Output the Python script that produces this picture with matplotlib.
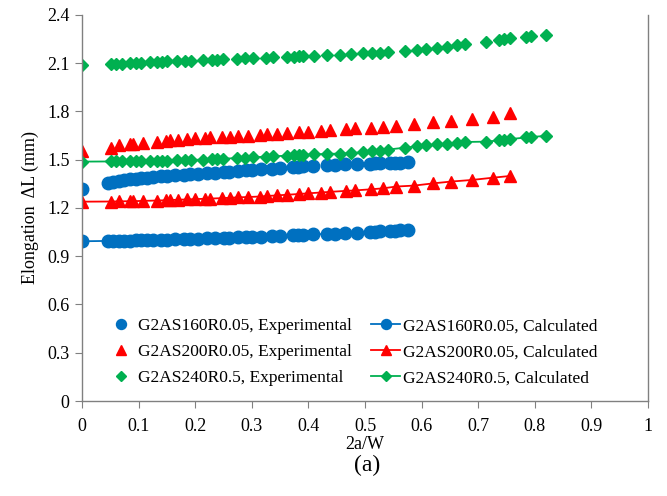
import matplotlib
matplotlib.use("Agg")
import matplotlib.pyplot as plt
from matplotlib.ticker import FuncFormatter

plt.rcParams['font.family'] = ['Liberation Serif', 'DejaVu Serif']

# G2AS160R0.05
x160 = [0, 0.045, 0.055, 0.065, 0.075, 0.085, 0.095, 0.105, 0.115, 0.125, 0.14, 0.15, 0.165,
        0.18, 0.19, 0.205, 0.22, 0.235, 0.25, 0.26, 0.275, 0.29, 0.30, 0.317, 0.335, 0.35,
        0.373, 0.382, 0.391, 0.408, 0.432, 0.447, 0.465, 0.485, 0.509, 0.518, 0.527, 0.544,
        0.553, 0.562, 0.576]
exp160 = [1.316, 1.354, 1.362, 1.368, 1.373, 1.378, 1.382, 1.386, 1.389, 1.392, 1.396, 1.399,
          1.403, 1.407, 1.410, 1.413, 1.417, 1.420, 1.424, 1.426, 1.430, 1.434, 1.436, 1.440,
          1.445, 1.450, 1.455, 1.457, 1.459, 1.462, 1.466, 1.469, 1.472, 1.474, 1.476, 1.477,
          1.478, 1.480, 1.481, 1.482, 1.484]
calc160 = [0.993, 0.995, 0.996, 0.996, 0.997, 0.997, 0.998, 0.999, 1.000, 1.001, 1.002, 1.003,
           1.005, 1.006, 1.007, 1.009, 1.011, 1.013, 1.015, 1.016, 1.018, 1.019, 1.020, 1.022,
           1.024, 1.026, 1.029, 1.031, 1.032, 1.035, 1.039, 1.041, 1.044, 1.047, 1.051, 1.053,
           1.055, 1.057, 1.059, 1.061, 1.063]

# G2AS200R0.05
x200 = [0, 0.052, 0.066, 0.085, 0.09, 0.108, 0.132, 0.148, 0.155, 0.170, 0.185, 0.200, 0.217,
        0.226, 0.247, 0.261, 0.276, 0.294, 0.314, 0.326, 0.344, 0.363, 0.384, 0.400, 0.422,
        0.438, 0.466, 0.482, 0.511, 0.532, 0.555, 0.587, 0.621, 0.652, 0.689, 0.726, 0.757]
exp200 = [1.556, 1.571, 1.592, 1.598, 1.600, 1.605, 1.612, 1.618, 1.620, 1.624, 1.628, 1.632,
          1.636, 1.640, 1.642, 1.644, 1.646, 1.649, 1.654, 1.657, 1.661, 1.665, 1.670, 1.674,
          1.679, 1.683, 1.690, 1.695, 1.700, 1.705, 1.710, 1.720, 1.732, 1.743, 1.755, 1.768,
          1.789]
calc200 = [1.239, 1.240, 1.241, 1.242, 1.242, 1.244, 1.246, 1.248, 1.249, 1.251, 1.253, 1.255,
           1.257, 1.258, 1.261, 1.263, 1.266, 1.268, 1.271, 1.274, 1.278, 1.282, 1.287, 1.291,
           1.296, 1.300, 1.306, 1.309, 1.316, 1.322, 1.333, 1.339, 1.353, 1.364, 1.374, 1.388,
           1.399]

# G2AS240R0.5
x240 = [0, 0.052, 0.060, 0.070, 0.085, 0.095, 0.105, 0.120, 0.132, 0.141, 0.150, 0.167, 0.182,
        0.192, 0.214, 0.229, 0.238, 0.249, 0.273, 0.288, 0.302, 0.325, 0.338, 0.362, 0.374,
        0.384, 0.390, 0.410, 0.432, 0.456, 0.475, 0.496, 0.512, 0.526, 0.541, 0.571, 0.591,
        0.607, 0.627, 0.644, 0.663, 0.677, 0.713, 0.737, 0.746, 0.757, 0.784, 0.793, 0.820]
exp240 = [2.089, 2.093, 2.095, 2.097, 2.100, 2.102, 2.104, 2.106, 2.108, 2.110, 2.111, 2.113,
          2.115, 2.116, 2.119, 2.121, 2.122, 2.124, 2.127, 2.129, 2.131, 2.135, 2.137, 2.140,
          2.141, 2.143, 2.144, 2.146, 2.149, 2.152, 2.155, 2.160, 2.163, 2.166, 2.168, 2.176,
          2.183, 2.188, 2.195, 2.203, 2.210, 2.216, 2.234, 2.244, 2.248, 2.255, 2.263, 2.266,
          2.276]
calc240 = [1.488, 1.489, 1.489, 1.490, 1.490, 1.491, 1.491, 1.492, 1.493, 1.494, 1.494, 1.496,
           1.497, 1.498, 1.501, 1.503, 1.505, 1.506, 1.510, 1.512, 1.515, 1.519, 1.521, 1.525,
           1.527, 1.529, 1.530, 1.533, 1.536, 1.538, 1.540, 1.547, 1.552, 1.557, 1.563, 1.575,
           1.583, 1.589, 1.595, 1.600, 1.605, 1.610, 1.612, 1.620, 1.624, 1.628, 1.638, 1.641,
           1.648]

blue = '#0070C0'
red = '#FF0000'
green = '#00B050'

fig = plt.figure(figsize=(6.67, 4.96), dpi=100)
ax = fig.add_axes([0.123, 0.1915, 0.8485, 0.7785])

h1, = ax.plot(x160, exp160, 'o', color=blue, markersize=9, linestyle='none')
h2, = ax.plot(x200, exp200, '^', color=red, markersize=9, linestyle='none')
h3, = ax.plot(x240, exp240, 'D', color=green, markersize=6.5, linestyle='none')
h4, = ax.plot(x160, calc160, 'o-', color=blue, markersize=9, linewidth=1.3)
h5, = ax.plot(x200, calc200, '^-', color=red, markersize=9, linewidth=1.3)
h6, = ax.plot(x240, calc240, 'D-', color=green, markersize=6.5, linewidth=1.3)

ax.set_xlim(0, 1)
ax.set_ylim(0, 2.4)
ax.set_xticks([i / 10 for i in range(11)])
ax.set_yticks([i * 0.3 for i in range(9)])
fmt = FuncFormatter(lambda v, p: ('%.1f' % v).rstrip('0').rstrip('.') if v != 0 else '0')
ax.xaxis.set_major_formatter(fmt)
ax.yaxis.set_major_formatter(fmt)

for s in ['left', 'bottom', 'right']:
    ax.spines[s].set_color('#808080')
    ax.spines[s].set_linewidth(1)
ax.spines['top'].set_visible(False)
ax.tick_params(axis='both', direction='out', length=5, color='#808080', labelsize=13)
ax.tick_params(axis='x', pad=7)
ax.tick_params(axis='y', pad=4)

ax.set_ylabel('Elongation  ΔL (mm)', fontsize=13, labelpad=6)
ax.set_xlabel('2a/W', fontsize=13, labelpad=1)
fig.text(0.55, 0.0625, '(a)', fontsize=17, ha='center', va='center')

leg = ax.legend([h1, h2, h3, h4, h5, h6],
                ['G2AS160R0.05, Experimental', 'G2AS200R0.05, Experimental',
                 'G2AS240R0.5, Experimental', 'G2AS160R0.05, Calculated',
                 'G2AS200R0.05, Calculated', 'G2AS240R0.5, Calculated'],
                ncol=2, frameon=False, fontsize=12.5, loc='lower left',
                bbox_to_anchor=(0.031, 0.02), borderaxespad=0, handlelength=1.67,
                handletextpad=0.15, columnspacing=1.1, labelspacing=0.57, markerscale=0.8)

fig.savefig('out.png', dpi=100)
